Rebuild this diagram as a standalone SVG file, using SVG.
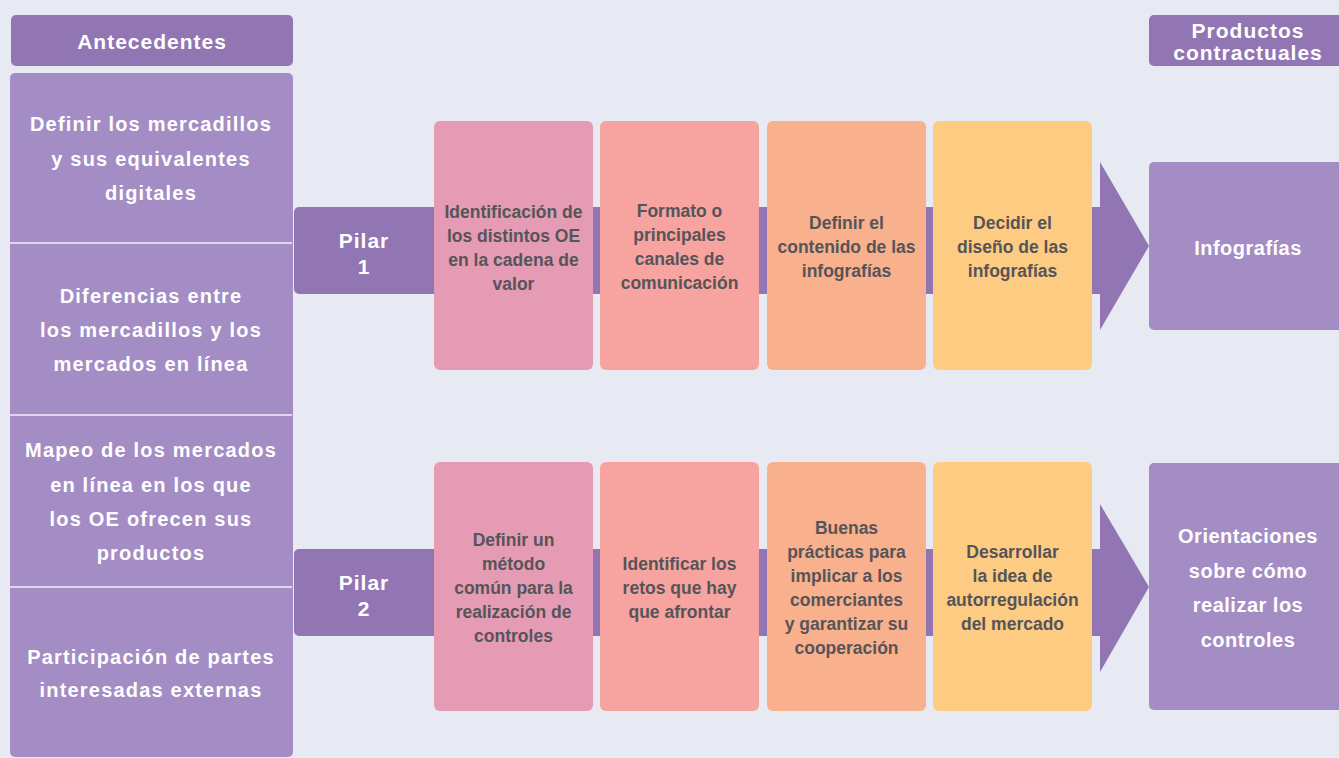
<svg xmlns="http://www.w3.org/2000/svg" width="1339" height="758" viewBox="0 0 1339 758">
<style>
.bg{fill:#E7EAF2}
.hdr{fill:#9275B3}
.lite{fill:#A48DC4}
.bar{fill:#9275B3}
.wt{font-family:"Liberation Sans",Arial,sans-serif;font-weight:bold;fill:#FFFFFF;text-anchor:middle}
.lt{font-size:20px;letter-spacing:1.2px}
.ht{font-size:21px;letter-spacing:1px}
.rt{font-size:20px;letter-spacing:0.5px}
.dk{font-family:"Liberation Sans",Arial,sans-serif;font-weight:bold;font-size:17.5px;fill:#555559;text-anchor:middle}
.div{stroke:#F2F0F8;stroke-width:1.5}
.c1{fill:#E59BB4}.c2{fill:#F7A39F}.c3{fill:#F9B08C}.c4{fill:#FECB82}
</style>
<rect class="bg" x="0" y="0" width="1339" height="758"/>

<g id="antecedentes-header">
<rect class="hdr" x="11" y="15" width="282" height="51" rx="5"/>
<text class="wt ht" x="152" y="49">Antecedentes</text>
</g>

<g id="antecedentes">
<rect class="lite" x="10" y="73" width="283" height="684" rx="5"/>
<line class="div" x1="10" y1="243" x2="292" y2="243"/>
<line class="div" x1="10" y1="415" x2="292" y2="415"/>
<line class="div" x1="10" y1="587" x2="292" y2="587"/>
<text class="wt lt" x="151"><tspan x="151" y="131">Definir los mercadillos</tspan><tspan x="151" y="166">y sus equivalentes</tspan><tspan x="151" y="200">digitales</tspan></text>
<text class="wt lt" x="151"><tspan x="151" y="303">Diferencias entre</tspan><tspan x="151" y="337">los mercadillos y los</tspan><tspan x="151" y="371">mercados en línea</tspan></text>
<text class="wt lt" x="151"><tspan x="151" y="457">Mapeo de los mercados</tspan><tspan x="151" y="492">en línea en los que</tspan><tspan x="151" y="526">los OE ofrecen sus</tspan><tspan x="151" y="560">productos</tspan></text>
<text class="wt lt" x="151"><tspan x="151" y="664">Participación de partes</tspan><tspan x="151" y="697">interesadas externas</tspan></text>
</g>

<g id="connectors">
<path class="bar" d="M299,207 H1100 V162 L1149,246 L1100,330 V294 H299 A5,5 0 0 1 294,289 V212 A5,5 0 0 1 299,207 Z"/>
<path class="bar" d="M299,549 H1100 V504 L1149,587 L1100,672 V636 H299 A5,5 0 0 1 294,631 V554 A5,5 0 0 1 299,549 Z"/>
</g>

<g id="pilar1">
<text class="wt ht"><tspan x="364" y="248">Pilar</tspan><tspan x="364" y="274">1</tspan></text>
</g>
<g id="pilar2">
<text class="wt ht"><tspan x="364" y="590">Pilar</tspan><tspan x="364" y="616">2</tspan></text>
</g>

<g id="p1-box1">
<rect class="c1" x="434" y="121" width="159" height="249" rx="6"/>
<text class="dk"><tspan x="513.5" y="218">Identificación de</tspan><tspan x="513.5" y="242">los distintos OE</tspan><tspan x="513.5" y="266">en la cadena de</tspan><tspan x="513.5" y="290">valor</tspan></text>
</g>
<g id="p1-box2">
<rect class="c2" x="600" y="121" width="159" height="249" rx="6"/>
<text class="dk"><tspan x="679.5" y="217">Formato o</tspan><tspan x="679.5" y="241">principales</tspan><tspan x="679.5" y="265">canales de</tspan><tspan x="679.5" y="289">comunicación</tspan></text>
</g>
<g id="p1-box3">
<rect class="c3" x="767" y="121" width="159" height="249" rx="6"/>
<text class="dk"><tspan x="846.5" y="229">Definir el</tspan><tspan x="846.5" y="253">contenido de las</tspan><tspan x="846.5" y="277">infografías</tspan></text>
</g>
<g id="p1-box4">
<rect class="c4" x="933" y="121" width="159" height="249" rx="6"/>
<text class="dk"><tspan x="1012.5" y="229">Decidir el</tspan><tspan x="1012.5" y="253">diseño de las</tspan><tspan x="1012.5" y="277">infografías</tspan></text>
</g>

<g id="p2-box1">
<rect class="c1" x="434" y="462" width="159" height="249" rx="6"/>
<text class="dk"><tspan x="513.5" y="546">Definir un</tspan><tspan x="513.5" y="570">método</tspan><tspan x="513.5" y="594">común para la</tspan><tspan x="513.5" y="618">realización de</tspan><tspan x="513.5" y="642">controles</tspan></text>
</g>
<g id="p2-box2">
<rect class="c2" x="600" y="462" width="159" height="249" rx="6"/>
<text class="dk"><tspan x="679.5" y="570">Identificar los</tspan><tspan x="679.5" y="594">retos que hay</tspan><tspan x="679.5" y="618">que afrontar</tspan></text>
</g>
<g id="p2-box3">
<rect class="c3" x="767" y="462" width="159" height="249" rx="6"/>
<text class="dk"><tspan x="846.5" y="534">Buenas</tspan><tspan x="846.5" y="558">prácticas para</tspan><tspan x="846.5" y="582">implicar a los</tspan><tspan x="846.5" y="606">comerciantes</tspan><tspan x="846.5" y="630">y garantizar su</tspan><tspan x="846.5" y="654">cooperación</tspan></text>
</g>
<g id="p2-box4">
<rect class="c4" x="933" y="462" width="159" height="249" rx="6"/>
<text class="dk"><tspan x="1012.5" y="558">Desarrollar</tspan><tspan x="1012.5" y="582">la idea de</tspan><tspan x="1012.5" y="606">autorregulación</tspan><tspan x="1012.5" y="630">del mercado</tspan></text>
</g>

<g id="productos-header">
<rect class="hdr" x="1149" y="15" width="200" height="51" rx="5"/>
<text class="wt ht"><tspan x="1248" y="38">Productos</tspan><tspan x="1248" y="60">contractuales</tspan></text>
</g>
<g id="infografias">
<rect class="lite" x="1149" y="162" width="200" height="168" rx="5"/>
<text class="wt rt" x="1248" y="255">Infografías</text>
</g>
<g id="orientaciones">
<rect class="lite" x="1149" y="463" width="200" height="247" rx="5"/>
<text class="wt rt"><tspan x="1248" y="543">Orientaciones</tspan><tspan x="1248" y="578">sobre cómo</tspan><tspan x="1248" y="612">realizar los</tspan><tspan x="1248" y="647">controles</tspan></text>
</g>
</svg>
